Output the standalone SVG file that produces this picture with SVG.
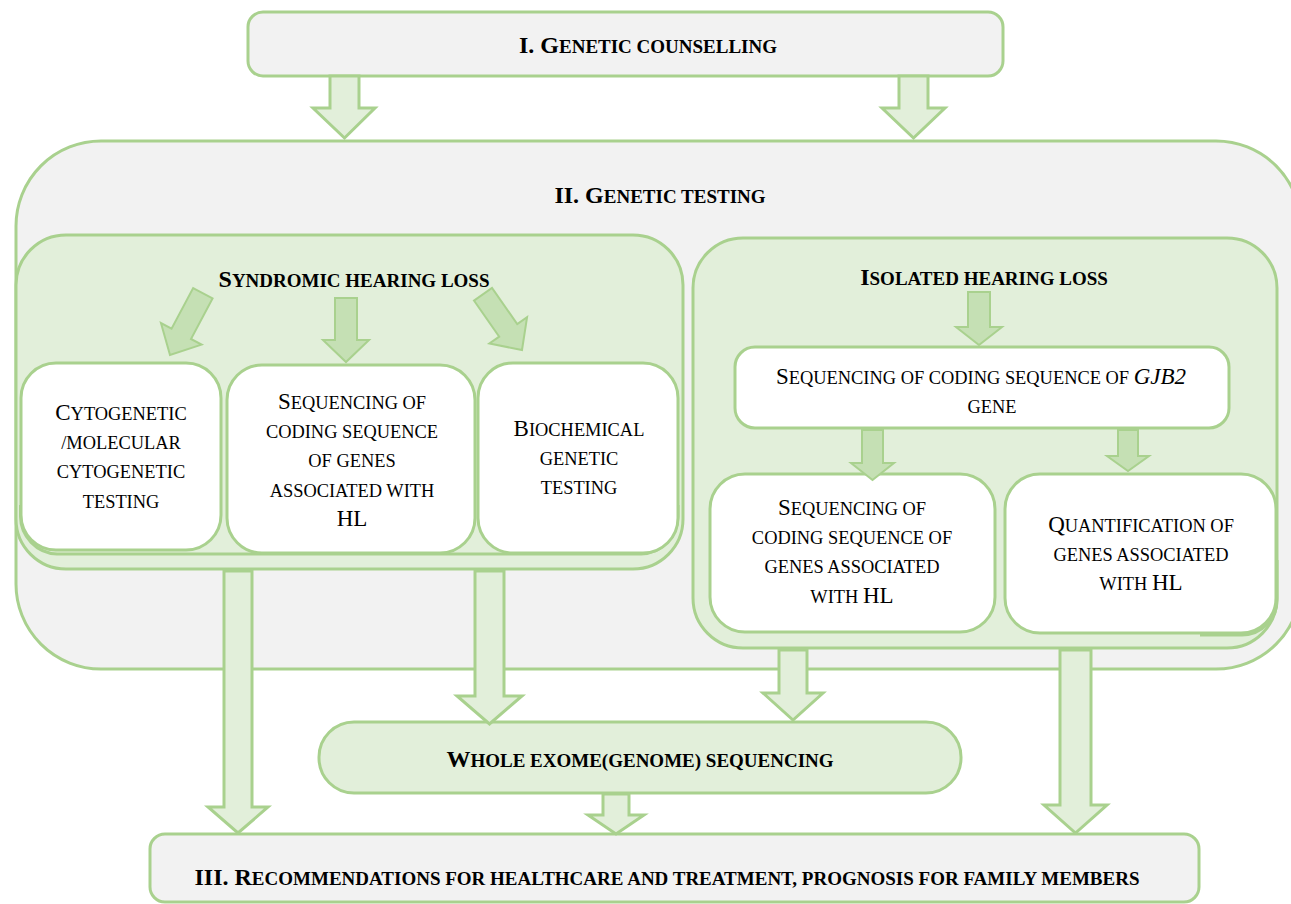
<svg xmlns="http://www.w3.org/2000/svg" width="1291" height="904" viewBox="0 0 1291 904">
<style>
.box{stroke:#a9d18e;stroke-width:3}
.grey{fill:#f2f2f2}
.lg{fill:#e2efda}
.wh{fill:#ffffff}
.shadow{fill:#e2efda;stroke:#a9d18e;stroke-width:3}
.arr{fill:#e2efda;stroke:#a9d18e;stroke-width:3;stroke-linejoin:miter}
.arr2{fill:#c5e0b4;stroke:#a9d18e;stroke-width:2;stroke-linejoin:miter}
text{font-family:"Liberation Serif","Times New Roman",serif;fill:#000;text-anchor:middle}
.b{font-weight:bold;font-size:24px}
.bs{font-size:19px}
.r{font-size:23px}
.rs{font-size:18.4px}
.it{font-style:italic}
</style>
<rect width="1291" height="904" fill="#ffffff"/>

<g id="genetic-testing">
<rect class="box grey" x="16" y="141" width="1285" height="528" rx="85"/>
<text class="b" x="660" y="203">II. G<tspan class="bs">ENETIC TESTING</tspan></text>
</g>

<g id="genetic-counselling">
<rect class="box grey" x="248" y="12" width="755" height="64" rx="15"/>
<text class="b" x="648" y="53">I.  G<tspan class="bs">ENETIC COUNSELLING</tspan></text>
</g>

<g id="syndromic">
<rect class="box lg" x="16" y="235" width="667" height="334" rx="50"/>
<text class="b" x="354" y="287">S<tspan class="bs">YNDROMIC HEARING LOSS</tspan></text>
<path class="shadow" d="M20.5,505 V516 A38,38 0 0 0 57,554 H641 A38,38 0 0 0 678,516 V505"/>
</g>

<g id="cytogenetic">
<rect class="box wh" x="21" y="363" width="200" height="187" rx="35"/>
<text class="r" x="121" y="420">C<tspan class="rs">YTOGENETIC</tspan></text>
<text class="rs" x="121" y="449">/MOLECULAR</text>
<text class="rs" x="121" y="478">CYTOGENETIC</text>
<text class="rs" x="121" y="508">TESTING</text>
</g>

<g id="syn-sequencing">
<rect class="box wh" x="227" y="365" width="248" height="188" rx="35"/>
<text class="r" x="352" y="409">S<tspan class="rs">EQUENCING OF</tspan></text>
<text class="rs" x="352" y="438">CODING SEQUENCE</text>
<text class="rs" x="352" y="467">OF GENES</text>
<text class="rs" x="352" y="497">ASSOCIATED WITH</text>
<text class="r" x="352" y="526">HL</text>
</g>

<g id="biochemical">
<rect class="box wh" x="478" y="363" width="200" height="190" rx="35"/>
<text class="r" x="579" y="436">B<tspan class="rs">IOCHEMICAL</tspan></text>
<text class="rs" x="579" y="465">GENETIC</text>
<text class="rs" x="579" y="494">TESTING</text>
</g>

<g id="isolated">
<rect class="box lg" x="693" y="238" width="584" height="410" rx="50"/>
<text class="b" x="984" y="285">I<tspan class="bs">SOLATED HEARING LOSS</tspan></text>
<path class="shadow" d="M1277,560 V600 A35,35 0 0 1 1242,635 H1200"/>
</g>

<g id="gjb2">
<rect class="box wh" x="735" y="347" width="494" height="81" rx="20"/>
<text class="r" x="981" y="384">S<tspan class="rs">EQUENCING OF CODING SEQUENCE OF </tspan><tspan class="it">GJB2</tspan></text>
<text class="rs" x="992" y="413">GENE</text>
</g>

<g id="iso-sequencing">
<rect class="box wh" x="710" y="474" width="285" height="158" rx="35"/>
<text class="r" x="852" y="515">S<tspan class="rs">EQUENCING OF</tspan></text>
<text class="rs" x="852" y="544">CODING SEQUENCE OF</text>
<text class="rs" x="852" y="573">GENES ASSOCIATED</text>
<text class="r" x="852" y="603"><tspan class="rs">WITH </tspan>HL</text>
</g>

<g id="quantification">
<rect class="box wh" x="1005" y="474" width="271" height="159" rx="35"/>
<text class="r" x="1141" y="532">Q<tspan class="rs">UANTIFICATION OF</tspan></text>
<text class="rs" x="1141" y="561">GENES ASSOCIATED</text>
<text class="r" x="1141" y="590"><tspan class="rs">WITH </tspan>HL</text>
</g>

<g id="wes">
<rect class="box lg" x="319" y="722" width="642" height="71" rx="35"/>
<text class="b" x="640" y="767">W<tspan class="bs">HOLE EXOME(GENOME) SEQUENCING</tspan></text>
</g>

<g id="recommendations">
<rect class="box grey" x="150" y="834" width="1049" height="68" rx="15"/>
<text class="b" x="667" y="885">III. R<tspan class="bs">ECOMMENDATIONS FOR HEALTHCARE AND TREATMENT, PROGNOSIS FOR FAMILY MEMBERS</tspan></text>
</g>

<g id="connectors">
<path class="arr" d="M330,76 L359,76 L359,108 L375,108 L344.5,138 L313,108 L330,108 Z"/>
<path class="arr" d="M899,76 L928,76 L928,108 L945,108 L913.5,138 L882,108 L899,108 Z"/>
<path class="arr2" d="M-11,-70 L11,-70 L11,-24 L23,-24 L0,0 L-23,-24 L-11,-24 Z" transform="translate(170,355) rotate(28)"/>
<path class="arr2" d="M335,298 L357,298 L357,340 L369,340 L346,362 L323,340 L335,340 Z"/>
<path class="arr2" d="M-11,-68 L11,-68 L11,-24 L23,-24 L0,0 L-23,-24 L-11,-24 Z" transform="translate(522,350) rotate(-35)"/>
<path class="arr2" d="M968,292 L990,292 L990,327 L1002,327 L979,345 L956,327 L968,327 Z"/>
<path class="arr2" d="M862,430 L883,430 L883,463 L894,463 L872.5,480 L851,463 L862,463 Z"/>
<path class="arr2" d="M1118,430 L1138,430 L1138,456 L1149,456 L1128,471 L1107,456 L1118,456 Z"/>
<path class="arr" d="M224,571 L252,571 L252,807 L268,807 L238,833 L208,807 L224,807 Z"/>
<path class="arr" d="M475,571 L504,571 L504,696 L522,696 L489.5,724 L457,696 L475,696 Z"/>
<path class="arr" d="M779,650 L807,650 L807,693 L823,693 L793,720 L763,693 L779,693 Z"/>
<path class="arr" d="M603,794 L629,794 L629,815 L644,815 L616,834 L588,815 L603,815 Z"/>
<path class="arr" d="M1060,650 L1091,650 L1091,805 L1107,805 L1075.5,833 L1044,805 L1060,805 Z"/>
</g>
</svg>
